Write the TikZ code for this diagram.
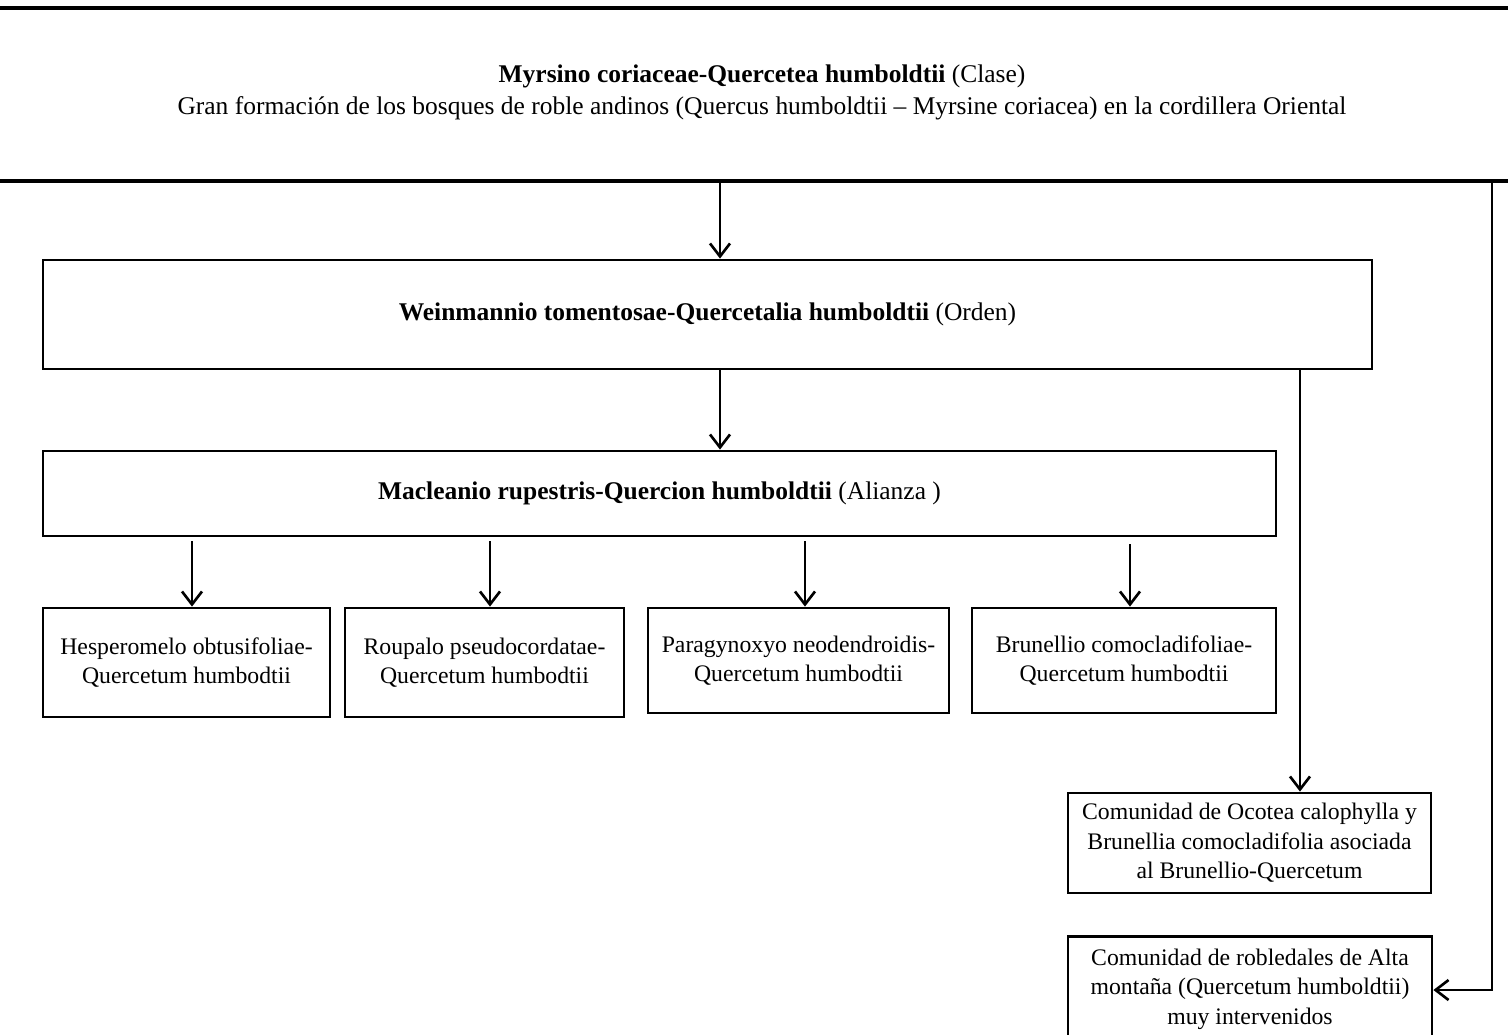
\documentclass[tikz,border=0pt]{standalone}
\usepackage{fontspec}
\setmainfont{Liberation Serif}
\usetikzlibrary{arrows.meta,positioning}
\tikzset{caja/.style={draw, line width=1.6pt, align=center, inner sep=0pt,% recuadro de cada unidad
font=\fontsize{13.5}{16.7}\selectfont},
grande/.style={font=\fontsize{14.5}{17}\selectfont},
flecha/.style={-{Straight Barb[length=2.6mm,width=4mm]}, line width=1.5pt},
raya/.style={line width=2pt},
texto/.style={font=\fontsize{14.5}{17}\selectfont, inner sep=0pt}}

\begin{document}
\begin{tikzpicture}[x=0.2mm,y=-0.2mm]
\useasboundingbox (0,0) rectangle (1508,1034);
\clip (0,0) rectangle (1508,1034);
% clase
\draw[raya] (0,8) -- (1508,8);
\node[texto] (clase) at (762,76) {\textbf{Myrsino coriaceae-Quercetea humboldtii} (Clase)};
\node[texto] (gran) at (762,108) {Gran formación de los bosques de roble andinos (Quercus humboldtii – Myrsine coriacea) en la cordillera Oriental};
\draw[raya] (0,181) -- (1508,181);
\coordinate (cruce) at (720,181);
\coordinate (esq) at (1492,181);
% orden y alianza
\node[caja, grande, minimum width=265.8mm, minimum height=21.8mm] (orden) at (707.5,314.5) {\textbf{Weinmannio tomentosae-Quercetalia humboldtii} (Orden)};
\node[caja, grande, minimum width=246.6mm, minimum height=17mm] (alianza) at (659.5,493.5) {\textbf{Macleanio rupestris-Quercion humboldtii} (Alianza )};
% asociaciones
\node[caja, minimum width=57.4mm, minimum height=21.8mm] (hesp) at (186.5,662.5) {Hesperomelo obtusifoliae-\\Quercetum humbodtii};
\node[caja, minimum width=55.8mm, minimum height=21.8mm] (roup) at (484.5,662.5) {Roupalo pseudocordatae-\\Quercetum humbodtii};
\node[caja, minimum width=60.2mm, minimum height=21mm] (parag) at (798.5,660.5) {Paragynoxyo neodendroidis-\\Quercetum humbodtii};
\node[caja, minimum width=60.8mm, minimum height=21mm] (brun) at (1124,660.5) {Brunellio comocladifoliae-\\Quercetum humbodtii};
% comunidades
\node[caja, minimum width=72.6mm, minimum height=20mm] (ocotea) at (1249.5,843) {Comunidad de Ocotea calophylla y\\Brunellia comocladifolia asociada\\al Brunellio-Quercetum};
\node[caja, minimum width=72.8mm, minimum height=21mm] (alta) at (1250,989) {Comunidad de robledales de Alta\\montaña (Quercetum humboldtii)\\muy intervenidos};
% flechas
\draw[flecha] (cruce) -- (cruce |- orden.north);
\draw[flecha] (cruce |- orden.south) -- (cruce |- alianza.north);
\draw[flecha] ([xshift=10.1mm]ocotea.north |- orden.south) -- ([xshift=10.1mm]ocotea.north);
\draw[flecha] (esq) |- ([yshift=-0.2mm]alta.east);
\draw[flecha] ([xshift=1.1mm,yshift=-0.8mm]hesp.north |- alianza.south) -- ([xshift=1.1mm]hesp.north);
\draw[flecha] ([xshift=1.1mm,yshift=-0.8mm]roup.north |- alianza.south) -- ([xshift=1.1mm]roup.north);
\draw[flecha] ([xshift=1.3mm,yshift=-0.8mm]parag.north |- alianza.south) -- ([xshift=1.3mm]parag.north);
\draw[flecha] ([xshift=1.2mm,yshift=-1.4mm]brun.north |- alianza.south) -- ([xshift=1.2mm]brun.north);
\end{tikzpicture}
\end{document}
